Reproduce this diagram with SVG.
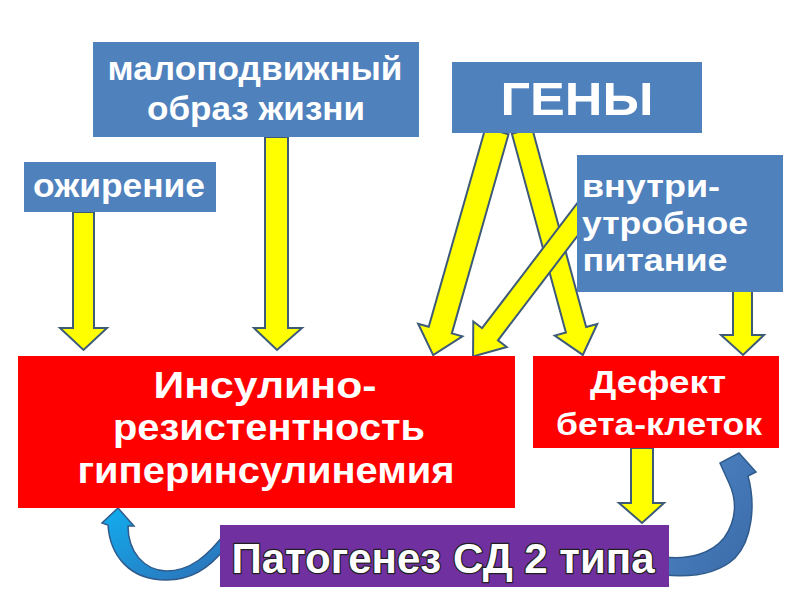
<svg xmlns="http://www.w3.org/2000/svg" width="800" height="600" viewBox="0 0 800 600">
<defs>
<linearGradient id="gl" x1="0" y1="0" x2="1" y2="1">
<stop offset="0" stop-color="#10aef0"/><stop offset="1" stop-color="#2f6fb5"/>
</linearGradient>
<linearGradient id="gr" x1="0" y1="0" x2="1" y2="1">
<stop offset="0" stop-color="#4f86c6"/><stop offset="1" stop-color="#3a6aa8"/>
</linearGradient>
<style>
.blue{fill:#4f81bd}
.red{fill:#ff0000}
.purple{fill:#7030a0}
.ya{fill:#ffff00;stroke:#3d5a78;stroke-width:2;stroke-linejoin:miter}
.ca{stroke:#2f5b8c;stroke-width:1.5}
.t{font-family:"Liberation Sans",Arial,sans-serif;font-weight:bold;fill:#ffffff;text-anchor:middle}
.tp{font-family:"Liberation Sans",Arial,sans-serif;font-weight:bold;fill:#ffffff;text-anchor:middle;stroke:#202020;stroke-width:2.5;paint-order:stroke;stroke-linejoin:round}
</style>
</defs>
<rect width="800" height="600" fill="#ffffff"/>
<g id="connectors">
<polygon class="ya" points="73,212 94,212 94,328 107,328 83.5,350 60,328 73,328"/>
<polygon class="ya" points="265,137 288,137 288,328 302,328 277,350 254,328 265,328"/>
<polygon class="ya" points="-12,0 12,0 12,207 23,207 0,233 -23,207 -12,207" transform="translate(497,131) rotate(15.9)"/>
<polygon class="ya" points="-10.5,0 10.5,0 10.5,206 22,206 0,232 -22,206 -10.5,206" transform="translate(522,131) rotate(-15.2)"/>
<polygon class="ya" points="-10,0 10,0 10,165 21,165 0,193 -21,165 -10,165" transform="translate(590,203) rotate(37.3)"/>
<polygon class="ya" points="733,290 752,290 752,335 764,335 743,355 721,335 733,335"/>
<polygon class="ya" points="631,448 653,448 653,503 664,503 642,523 619,503 631,503"/>
<path class="ca" fill="url(#gl)" d="M118,508 L134,526 L128,526 C128,552 144,570 166,571 C190,571 208,556 226,532 L226,547 C208,570 190,580 166,580 C130,580 110,556 108,525 L102,523 Z"/>
<path class="ca" fill="url(#gr)" d="M739,453 L756,472 L748,476 C756,505 752,540 735,558 C720,572 695,578 664,575 L664,557 C690,560 712,553 724,538 C737,520 737,500 729,483 L720,463 Z"/>
</g>
<g id="n-malo">
<rect class="blue" x="93" y="42" width="326" height="95"/>
<text class="t" x="255" y="80" font-size="33" textLength="295" lengthAdjust="spacingAndGlyphs">малоподвижный</text>
<text class="t" x="256" y="120" font-size="33" textLength="218" lengthAdjust="spacingAndGlyphs">образ жизни</text>
</g>
<g id="n-ozh">
<rect class="blue" x="24" y="162" width="192" height="50"/>
<text class="t" x="119" y="197" font-size="34" textLength="172" lengthAdjust="spacingAndGlyphs">ожирение</text>
</g>
<g id="n-geny">
<rect class="blue" x="452" y="62" width="250" height="71"/>
<text class="t" x="577" y="115" font-size="46" textLength="153" lengthAdjust="spacingAndGlyphs">ГЕНЫ</text>
</g>
<g id="n-vnutri">
<rect class="blue" x="577" y="155" width="206" height="137"/>
<text class="t" x="651" y="197" font-size="32" textLength="138" lengthAdjust="spacingAndGlyphs">внутри-</text>
<text class="t" x="665" y="234" font-size="32" textLength="166" lengthAdjust="spacingAndGlyphs">утробное</text>
<text class="t" x="655" y="271" font-size="32" textLength="145" lengthAdjust="spacingAndGlyphs">питание</text>
</g>
<g id="n-insulin">
<rect class="red" x="18" y="356" width="497" height="152"/>
<text class="t" x="265" y="398" font-size="36" textLength="223" lengthAdjust="spacingAndGlyphs">Инсулино-</text>
<text class="t" x="269" y="440" font-size="36" textLength="312" lengthAdjust="spacingAndGlyphs">резистентность</text>
<text class="t" x="266" y="483" font-size="36" textLength="377" lengthAdjust="spacingAndGlyphs">гиперинсулинемия</text>
</g>
<g id="n-defekt">
<rect class="red" x="533" y="356" width="246" height="92"/>
<text class="t" x="658" y="393" font-size="32" textLength="136" lengthAdjust="spacingAndGlyphs">Дефект</text>
<text class="t" x="659" y="435" font-size="32" textLength="206" lengthAdjust="spacingAndGlyphs">бета-клеток</text>
</g>
<g id="n-patogenez">
<rect class="purple" x="220" y="525" width="449" height="62"/>
<text class="tp" x="443" y="573" font-size="43" textLength="423" lengthAdjust="spacingAndGlyphs">Патогенез СД 2 типа</text>
</g>
</svg>
